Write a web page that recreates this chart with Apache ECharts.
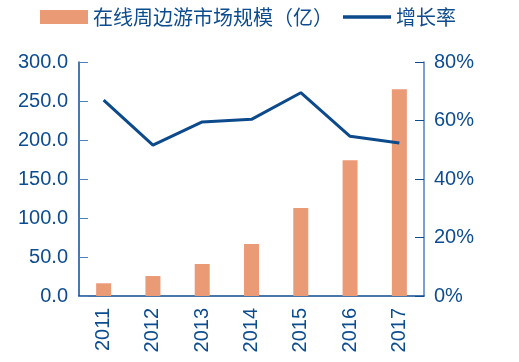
<!DOCTYPE html>
<html>
<head>
<meta charset="utf-8">
<script src="https://cdn.jsdelivr.net/npm/echarts@6/dist/echarts.min.js"></script>
<style>html,body{margin:0;padding:0;background:#fff;}#c{width:519px;height:362px;}</style>
</head>
<body>
<div id="c"></div>
<script>
var categories = ['2011','2012','2013','2014','2015','2016','2017'];
var marketSize = [16.3, 25.6, 41.0, 66.7, 112.8, 174.0, 265.0];
var growthRate = [67.0, 51.6, 59.5, 60.4, 69.5, 54.6, 52.3];
var leftTicks = {min: 0, max: 300, interval: 50};
var rightTicks = {min: 0, max: 80, interval: 20};

var textColor = '#0D4C8F';
var font = 'Liberation Sans, Arial, sans-serif';
var chart = echarts.init(document.getElementById('c'));
chart.setOption({
  animation: false,
  legend: {
    top: 2, left: 35,
    itemWidth: 48, itemHeight: 14, itemGap: 10,
    textStyle: {color: textColor, fontSize: 20, fontFamily: 'Noto Sans CJK SC'},
    data: [
      {name: '在线周边游市场规模（亿）', icon: 'rect'},
      {name: '增长率', icon: 'path://M0,0 L48,0 L48,3.5 L0,3.5 Z'}
    ]
  },
  grid: {left: 79, right: 95, top: 62, bottom: 66},
  xAxis: {
    type: 'category',
    data: categories,
    axisLine: {lineStyle: {color: '#0D4C8F', width: 1.5}},
    axisTick: {inside: true, length: 9, lineStyle: {color: '#2C5E9A'}},
    axisLabel: {rotate: 90, margin: 12, color: textColor, fontSize: 20, fontFamily: font}
  },
  yAxis: [
    {
      type: 'value', min: leftTicks.min, max: leftTicks.max, interval: leftTicks.interval,
      splitLine: {show: false},
      axisLine: {show: true, lineStyle: {color: '#0D4C8F', width: 1.5}},
      axisTick: {show: true, inside: true, length: 9, lineStyle: {color: '#4F7FBF'}},
      axisLabel: {margin: 11, color: textColor, fontSize: 20, fontFamily: font,
        formatter: function(v){return v.toFixed(1);}}
    },
    {
      type: 'value', min: rightTicks.min, max: rightTicks.max, interval: rightTicks.interval,
      splitLine: {show: false},
      axisLine: {show: true, lineStyle: {color: '#4F7FBF', width: 1.5}},
      axisTick: {show: true, inside: true, length: 9, lineStyle: {color: '#0D4C8F'}},
      axisLabel: {margin: 10, color: textColor, fontSize: 20, fontFamily: font,
        formatter: '{value}%'}
    }
  ],
  series: [
    {
      name: '在线周边游市场规模（亿）', type: 'bar', yAxisIndex: 0,
      data: marketSize, barWidth: 15,
      itemStyle: {color: '#EB9A76'}
    },
    {
      name: '增长率', type: 'line', yAxisIndex: 1,
      data: growthRate, symbol: 'none',
      lineStyle: {color: '#0C4A8C', width: 3},
      itemStyle: {color: '#0C4A8C'}
    }
  ]
});
</script>
</body>
</html>
